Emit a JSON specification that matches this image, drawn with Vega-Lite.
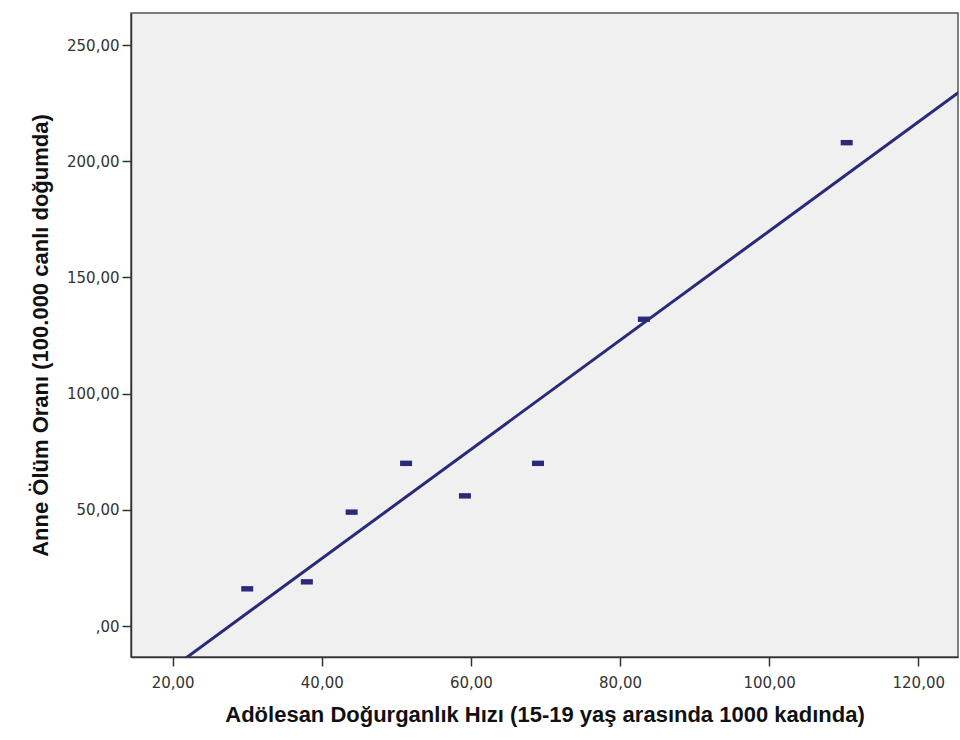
{
  "$schema": "https://vega.github.io/schema/vega-lite/v6.json",
  "width": 827,
  "height": 644,
  "autosize": {"type": "none"},
  "padding": {"left": 131, "top": 13, "right": 2, "bottom": 83},
  "background": "#ffffff",
  "data": {
    "values": [
      {"ahr": 30.0, "aor": 16},
      {"ahr": 38.0, "aor": 19},
      {"ahr": 44.0, "aor": 49},
      {"ahr": 51.3, "aor": 70},
      {"ahr": 59.2, "aor": 56},
      {"ahr": 69.0, "aor": 70},
      {"ahr": 83.2, "aor": 132},
      {"ahr": 110.4, "aor": 208}
    ]
  },
  "encoding": {
    "x": {
      "field": "ahr",
      "type": "quantitative",
      "scale": {"domain": [14.41, 125.33], "nice": false, "zero": false},
      "axis": {
        "title": "Adölesan Doğurganlık Hızı (15-19 yaş arasında 1000 kadında)",
        "values": [20, 40, 60, 80, 100, 120],
        "labelExpr": "replace(format(datum.value, '.2f'), '.', ',')",
        "grid": false,
        "tickSize": 9,
        "labelPadding": 9,
        "titlePadding": 14
      }
    },
    "y": {
      "field": "aor",
      "type": "quantitative",
      "scale": {"domain": [-13.34, 263.8], "nice": false, "zero": false},
      "axis": {
        "title": "Anne Ölüm Oranı (100.000 canlı doğumda)",
        "values": [0, 50, 100, 150, 200, 250],
        "labelExpr": "datum.value == 0 ? ',00' : replace(format(datum.value, '.2f'), '.', ',')",
        "grid": false,
        "tickSize": 9,
        "labelPadding": 3,
        "titlePadding": 14
      }
    }
  },
  "layer": [
    {
      "mark": {
        "type": "point",
        "shape": "M-1,-0.45H1V0.45H-1Z",
        "size": 144,
        "filled": true,
        "opacity": 1,
        "color": "#2a2a78"
      }
    },
    {
      "transform": [
        {"regression": "aor", "on": "ahr", "extent": [14, 126]}
      ],
      "mark": {"type": "line", "color": "#2a2a78", "strokeWidth": 3, "clip": true}
    }
  ],
  "config": {
    "view": {"fill": "#f0f0f0", "stroke": "#555555", "strokeWidth": 1.5},
    "axis": {
      "domainColor": "#333333",
      "domainWidth": 1.5,
      "tickColor": "#333333",
      "tickWidth": 1.5,
      "labelFont": "DejaVu Sans",
      "labelFontSize": 15,
      "labelColor": "#333333",
      "titleFont": "Liberation Sans",
      "titleFontSize": 22,
      "titleFontWeight": "bold",
      "titleColor": "#111111"
    }
  }
}
